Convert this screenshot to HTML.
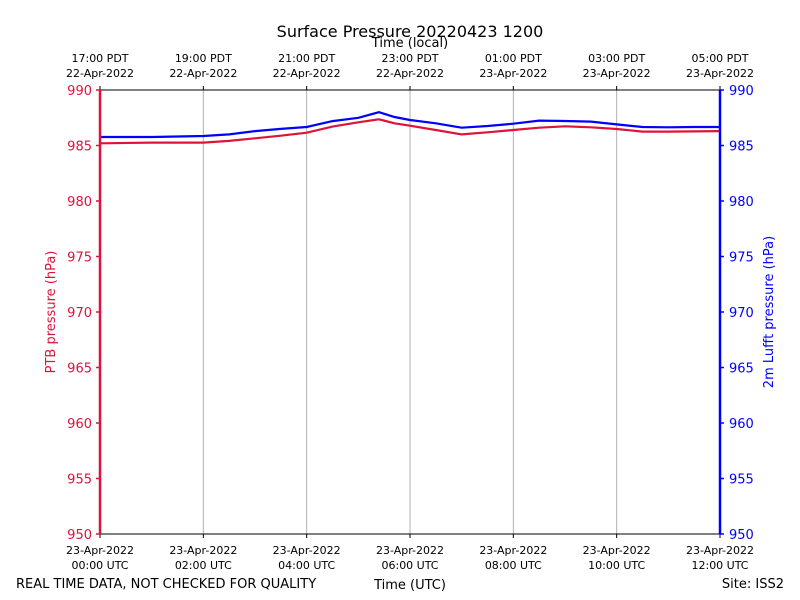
<!DOCTYPE html>
<html><head><meta charset="utf-8"><style>
body{margin:0;background:#fff;}
svg{font-family:"DejaVu Sans",sans-serif;display:block}
</style></head><body>
<svg id="chart" width="800" height="600">
<rect width="800" height="600" fill="#fff"/>
<text x="410" y="37" font-size="16" text-anchor="middle">Surface Pressure 20220423 1200</text>
<text x="410" y="47" font-size="13" text-anchor="middle">Time (local)</text>
<text x="410" y="589" font-size="13" text-anchor="middle">Time (UTC)</text>
<text x="16" y="588" font-size="13">REAL TIME DATA, NOT CHECKED FOR QUALITY</text>
<text x="784" y="588" font-size="13" text-anchor="end">Site: ISS2</text>
<text transform="translate(55,312) rotate(-90)" font-size="13" fill="#dc143c" text-anchor="middle">PTB pressure (hPa)</text>
<text transform="translate(773,312) rotate(-90)" font-size="13" fill="#0000ff" text-anchor="middle">2m Lufft pressure (hPa)</text>
<g id="grid"></g><g id="series"></g><g id="axes"></g>
</svg>
<script>
const hours=[0,1,2,2.5,3,3.5,4,4.5,5,5.4,5.7,6,6.5,7,7.5,8,8.5,9,9.5,10,10.5,11,11.5,12];
const ptb=[985.2,985.26,985.26,985.41,985.65,985.88,986.15,986.7,987.09,987.36,987.0,986.78,986.4,986.0,986.19,986.4,986.6,986.73,986.64,986.49,986.25,986.25,986.27,986.3];
const lufft=[985.77,985.77,985.86,986.0,986.3,986.5,986.67,987.2,987.5,988.0,987.57,987.3,987.0,986.6,986.76,986.96,987.24,987.21,987.15,986.9,986.67,986.64,986.67,986.67];
const yTicks=[950,955,960,965,970,975,980,985,990];
const xTickHours=[0,2,4,6,8,10,12];
const utcLabels=["00:00 UTC","02:00 UTC","04:00 UTC","06:00 UTC","08:00 UTC","10:00 UTC","12:00 UTC"];
const utcDates=["23-Apr-2022","23-Apr-2022","23-Apr-2022","23-Apr-2022","23-Apr-2022","23-Apr-2022","23-Apr-2022"];
const localLabels=["17:00 PDT","19:00 PDT","21:00 PDT","23:00 PDT","01:00 PDT","03:00 PDT","05:00 PDT"];
const localDates=["22-Apr-2022","22-Apr-2022","22-Apr-2022","22-Apr-2022","23-Apr-2022","23-Apr-2022","23-Apr-2022"];
const NS="http://www.w3.org/2000/svg";
const L=100,R=720,T=90,B=534;
const xs=h=>L+(h-0)/(12-0)*(R-L);
const ys=v=>B-(v-950)/(990-950)*(B-T);
function mk(tag,at,parent,txt){const e=document.createElementNS(NS,tag);for(const k in at)e.setAttribute(k,at[k]);if(txt!==undefined)e.textContent=txt;parent.appendChild(e);return e;}
const grid=document.getElementById('grid'),ser=document.getElementById('series'),ax=document.getElementById('axes');
xTickHours.forEach((h,i)=>{
 const x=xs(h);
 if(i>0&&i<xTickHours.length-1){const g=mk('line',{x1:x,x2:x,y1:T,y2:B,stroke:'#b0b0b0','stroke-width':1},grid);
 
 }
 mk('line',{x1:x,x2:x,y1:B,y2:B+4,stroke:'#000'},ax);
 mk('line',{x1:x,x2:x,y1:T,y2:T-4,stroke:'#000'},ax);
 const t1=mk('text',{x:x,y:B+20,'font-size':11,'text-anchor':'middle'},ax,utcDates[i]);
 
 
 const t2=mk('text',{x:x,y:B+35,'font-size':11,'text-anchor':'middle'},ax,utcLabels[i]);
 
 
 const t3=mk('text',{x:x,y:62,'font-size':11,'text-anchor':'middle'},ax,localLabels[i]);
 
 
 const t4=mk('text',{x:x,y:77,'font-size':11,'text-anchor':'middle'},ax,localDates[i]);
 
 
});
yTicks.forEach(v=>{
 const y=ys(v);
 mk('line',{x1:L-4,x2:L,y1:y,y2:y,stroke:'#dc143c','stroke-width':1.5},ax);
 mk('line',{x1:R,x2:R+4,y1:y,y2:y,stroke:'#0000ff','stroke-width':1.5},ax);
 const a=mk('text',{x:L-8,y:y+5,'font-size':13,'text-anchor':'end',fill:'#dc143c'},ax,v);
 
 
 const b=mk('text',{x:R+9,y:y+5,'font-size':13,fill:'#0000ff'},ax,v);
 
 
});
mk('line',{x1:L,x2:R,y1:T,y2:T,stroke:'#000','stroke-width':1},ax);
mk('line',{x1:L,x2:R,y1:B,y2:B,stroke:'#000','stroke-width':1},ax);
mk('line',{x1:L,x2:L,y1:T,y2:B,stroke:'#dc143c','stroke-width':2.5},ax);
mk('line',{x1:R,x2:R,y1:T,y2:B,stroke:'#0000ff','stroke-width':2.5},ax);
function line(vals,color,name){
 const p=vals.map((v,i)=>(i?'L':'M')+xs(hours[i]).toFixed(1)+','+ys(v).toFixed(1)).join(' ');
 const e=mk('path',{d:p,fill:'none',stroke:color,'stroke-width':2.2},ser);
 
 
}
line(ptb,'#dc143c','ptb-pressure-line');
line(lufft,'#0000ff','lufft-pressure-line');
</script>
</body></html>
